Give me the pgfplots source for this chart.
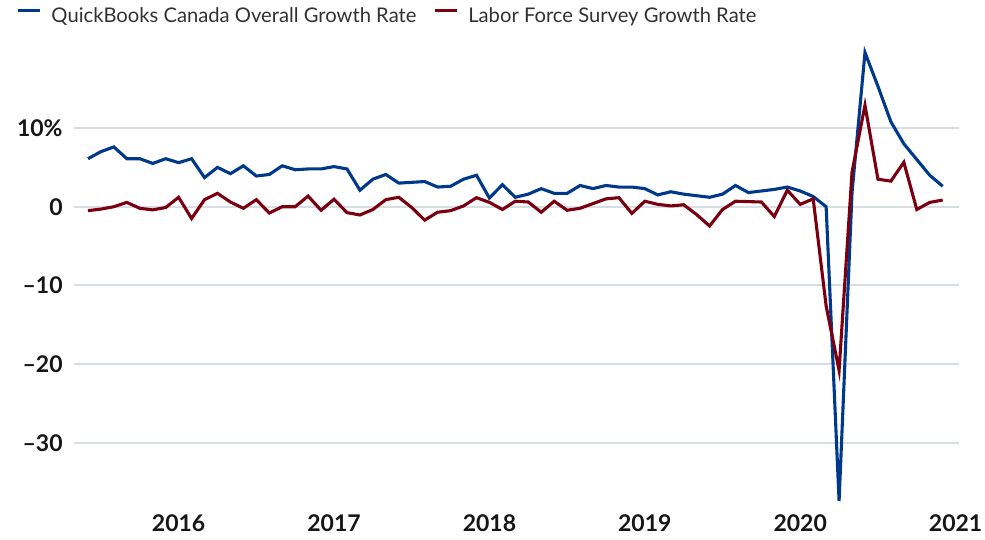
\documentclass[border=0pt]{standalone}
\usepackage{fontspec}
\setmainfont{Lato}
\usepackage{pgfplots}
\pgfplotsset{compat=1.18}
\definecolor{qbblue}{RGB}{0,57,138}
\definecolor{lfsred}{RGB}{122,0,16}
\definecolor{gridgray}{RGB}{214,222,228}
\definecolor{labelgray}{RGB}{50,50,50}
\definecolor{tickblack}{RGB}{22,22,22}

\begin{document}
\begin{tikzpicture}
\begin{axis}[
    name=ax,
    width=442.5pt,
    height=230.2pt,
    scale only axis,
    clip=false,
    xmin=-1.08, xmax=67.26,
    ymin=-38, ymax=20.5,
    axis line style={draw=none},
    major tick length=0pt,
    xtick={7,19,31,43,55,67},
    xticklabels={2016,2017,2018,2019,2020,2021},
    ytick={-30,-20,-10,0,10},
    yticklabels={--30,--20,--10,0,10\%},
    x tick label style={font=\fontsize{11.5}{13}\selectfont\bfseries, color=tickblack, inner sep=0pt, anchor=north, yshift=-4pt},
    y tick label style={font=\fontsize{11.5}{13}\selectfont\bfseries, color=tickblack, inner sep=0pt, anchor=east, xshift=-5.5pt},
    ymajorgrids=true,
    grid style={color=gridgray, line width=1pt},
    legend columns=2,
    legend image code/.code={\draw[#1] (0pt,3.4pt) -- (11pt,3.4pt);},
    legend style={
        at={(0,1)}, anchor=west, xshift=-29pt, yshift=14.2pt,
        draw=none, fill=none, inner sep=0pt,
        font=\fontsize{10.1}{12}\selectfont, text=labelgray,
        nodes={inner sep=0pt},
        /tikz/every odd column/.append style={column sep=5pt},
        /tikz/every even column/.append style={column sep=8.4pt},
    },
]
% QuickBooks Canada, monthly from Jun 2015 (index 0) to Dec 2020 (index 66)
\addplot[qbblue, line width=1.55pt] coordinates {
(0,6.1) (1,7.0) (2,7.6) (3,6.1) (4,6.1) (5,5.5) (6,6.1) (7,5.6) (8,6.1) (9,3.7)
(10,5.0) (11,4.2) (12,5.2) (13,3.9) (14,4.1) (15,5.2) (16,4.7) (17,4.8) (18,4.8) (19,5.1)
(20,4.8) (21,2.1) (22,3.5) (23,4.1) (24,3.0) (25,3.1) (26,3.2) (27,2.5) (28,2.6) (29,3.5)
(30,4.0) (31,1.1) (32,2.8) (33,1.2) (34,1.6) (35,2.3) (36,1.7) (37,1.7) (38,2.7) (39,2.3)
(40,2.7) (41,2.5) (42,2.5) (43,2.3) (44,1.5) (45,1.9) (46,1.6) (47,1.4) (48,1.2) (49,1.6)
(50,2.7) (51,1.8) (52,2.0) (53,2.2) (54,2.5) (55,2.0) (56,1.3) (57,0.0) (58,-37.4) (59,1.8)
(60,19.6) (61,15.3) (62,10.8) (63,8.0) (64,6.0) (65,4.0) (66,2.6)
};
\addlegendentry{QuickBooks Canada Overall Growth Rate}
% Labour Force Survey
\addplot[lfsred, line width=1.55pt] coordinates {
(0,-0.5) (1,-0.3) (2,0.0) (3,0.55) (4,-0.2) (5,-0.4) (6,-0.1) (7,1.2) (8,-1.5) (9,0.9)
(10,1.7) (11,0.6) (12,-0.2) (13,0.9) (14,-0.8) (15,0.0) (16,0.0) (17,1.35) (18,-0.45) (19,0.95)
(20,-0.75) (21,-1.05) (22,-0.35) (23,0.9) (24,1.2) (25,-0.1) (26,-1.7) (27,-0.7) (28,-0.5) (29,0.1)
(30,1.15) (31,0.55) (32,-0.35) (33,0.7) (34,0.6) (35,-0.7) (36,0.7) (37,-0.45) (38,-0.2) (39,0.4)
(40,1.0) (41,1.15) (42,-0.85) (43,0.7) (44,0.3) (45,0.1) (46,0.25) (47,-1.0) (48,-2.45) (49,-0.35)
(50,0.7) (51,0.65) (52,0.6) (53,-1.25) (54,2.1) (55,0.3) (56,1.0) (57,-12.6) (58,-20.8) (59,4.4)
(60,12.9) (61,3.5) (62,3.25) (63,5.65) (64,-0.35) (65,0.55) (66,0.85)
};
\addlegendentry{Labor Force Survey Growth Rate}
\end{axis}
\pgfresetboundingbox
\path ([xshift=-37pt,yshift=-17.1pt]ax.south west) rectangle ([xshift=13pt,yshift=22.7pt]ax.north east);
\end{tikzpicture}
\end{document}
